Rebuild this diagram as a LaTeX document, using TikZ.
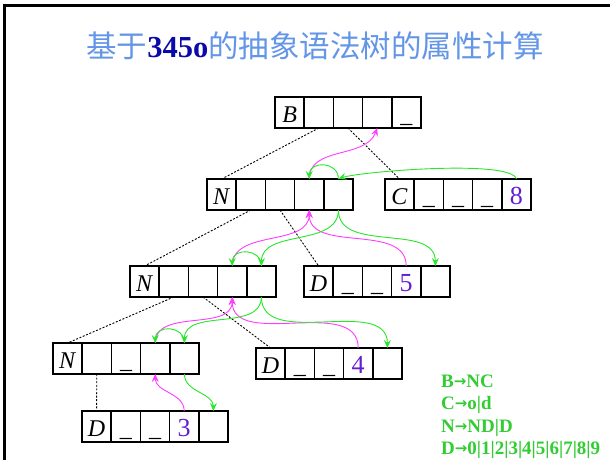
\documentclass[tikz,border=0pt]{standalone}
\usepackage{fontspec}
\setmainfont{Liberation Serif}
\newfontfamily\cjk{Noto Sans CJK SC}
\newfontfamily\arrfont{DejaVu Sans}
\usetikzlibrary{arrows.meta}
\definecolor{ttl}{RGB}{100,150,232}
\definecolor{ttldark}{RGB}{10,10,170}
\definecolor{dig}{RGB}{100,30,210}
\definecolor{syn}{RGB}{255,60,255}
\definecolor{inh}{RGB}{40,230,40}
\definecolor{leg}{RGB}{50,205,50}
\newcommand\attrrec[8]{%
  \node[cell,anchor=north west] (#1-1) at (#2,#3) {#4};
  \node[cell,anchor=west] (#1-2) at (#1-1.east) {#5};
  \node[cell,anchor=west] (#1-3) at (#1-2.east) {#6};
  \node[cell,anchor=west] (#1-4) at (#1-3.east) {#7};
  \node[cell,anchor=west] (#1-5) at (#1-4.east) {#8};}
\newcommand\dg[1]{{\color{dig}\fontsize{26}{26}\selectfont #1}}
\newcommand\ar{{\arrfont\bfseries\fontsize{15}{15}\selectfont\raisebox{1pt}{→}}}
\begin{document}
\begin{tikzpicture}[x=1pt,y=1pt,
  cell/.style={draw,line width=1.6pt,minimum width=29.2pt,minimum height=31pt,
    inner sep=0pt,outer sep=0pt,text height=20pt,text depth=1pt,
    font=\fontsize{24}{24}\selectfont},
  tree/.style={dash pattern=on 2pt off 1.6pt,line width=0.9pt},
  syna/.style={syn,line width=0.9pt,-{Stealth[length=8pt,width=7pt,inset=3pt]}},
  inha/.style={inh,line width=0.9pt,-{Stealth[length=8pt,width=7pt,inset=3pt]}},
  legline/.style={anchor=base west,inner sep=0pt,text=leg,font=\bfseries\fontsize{19}{19}\selectfont}]
\useasboundingbox (0,0) rectangle (610,-459);
\fill[white] (0,0) rectangle (610,-459);
% frame
\draw[line width=2.6pt] (4.6,-470) -- (4.6,-5.3) -- (620,-5.3);
% title
\node[text=ttl,font=\cjk\fontsize{30.5}{30.5}\selectfont] (title) at (315,-46)
  {基于{\rmfamily\bfseries\color{ttldark}345o}的抽象语法树的属性计算};
% records
\attrrec{rB}{275}{-97}{\textit{B}}{}{}{}{\_}
\attrrec{rN1}{207}{-179}{\textit{N}}{}{}{}{}
\attrrec{rC}{385}{-179}{\textit{C}}{\_}{\_}{\_}{\dg{8}}
\attrrec{rN2}{130}{-266}{\textit{N}}{}{}{}{}
\attrrec{rD5}{304}{-266}{\textit{D}}{\_}{\_}{\dg{5}}{}
\attrrec{rN3}{53}{-343}{\textit{N}}{}{\_}{}{}
\attrrec{rD4}{256}{-348}{\textit{D}}{\_}{\_}{\dg{4}}{}
\attrrec{rD3}{82}{-411}{\textit{D}}{\_}{\_}{\dg{3}}{}
% tree edges
\draw[tree] (rB-2.south) -- (rN1-1.north);
\draw[tree] (rB-3.south) -- (rC-1.north);
\draw[tree] (rN1-2.south) -- (rN2-1.north);
\draw[tree] (rN1-3.south) -- (rD5-1.north);
\draw[tree] (rN2-2.south) -- (rN3-1.north);
\draw[tree] (rN2-3.south) -- (rD4-1.north);
\draw[tree] (rN3-2.south) -- (rD3-1.north);
% level 1
\draw[syna] (rN1-4.north) to[out=90,in=-110] (rB-4.south);
\draw[inha] (rC-5.north) to[out=105,in=20,looseness=0.3] (rN1-5.north);
\draw[inha] (rN1-5.north) to[out=90,in=90,looseness=1.6] (rN1-4.north);
% level 2
\draw[syna] (rN2-4.north) to[out=90,in=-90] (rN1-4.south);
\draw[syna] (rD5-4.north) to[out=90,in=-90] (rN1-4.south);
\draw[inha] (rN1-5.south) to[out=-90,in=90] (rN2-5.north);
\draw[inha] (rN1-5.south) to[out=-90,in=90] (rD5-5.north);
\draw[inha] (rN2-5.north) to[out=90,in=90,looseness=1.6] (rN2-4.north);
% level 3
\draw[syna] (rN3-4.north) to[out=90,in=-90] (rN2-4.south);
\draw[syna] (rD4-4.north) to[out=90,in=-90] (rN2-4.south);
\draw[inha] (rN2-5.south) to[out=-90,in=90] (rN3-5.north);
\draw[inha] (rN2-5.south) to[out=-90,in=90] (rD4-5.north);
\draw[inha] (rN3-5.north) to[out=90,in=90,looseness=1.6] (rN3-4.north);
% level 4
\draw[syna] (rD3-4.north) to[out=90,in=-90] (rN3-4.south);
\draw[inha] (rN3-5.south) to[out=-90,in=90] (rD3-5.north);
% grammar
\node[legline] (leg1) at (441,-387) {B\ar NC};
\node[legline] (leg2) at (441,-409.5) {C\ar o|d};
\node[legline] (leg3) at (441,-432) {N\ar ND|D};
\node[legline] (leg4) at (441,-454.5) {D\ar 0|1|2|3|4|5|6|7|8|9};
\end{tikzpicture}
\end{document}
